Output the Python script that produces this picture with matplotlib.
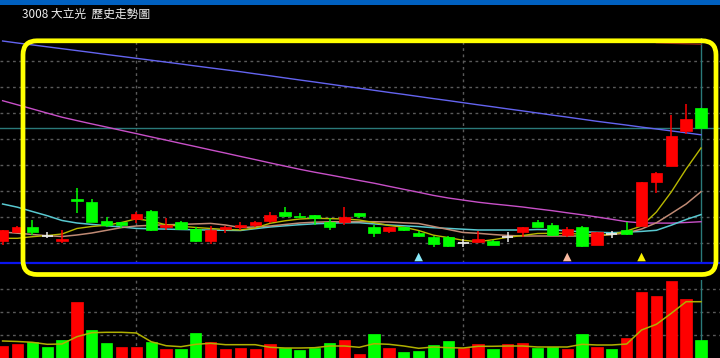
import matplotlib
matplotlib.use("Agg")
from matplotlib import pyplot as plt
from matplotlib.patches import FancyBboxPatch, Rectangle

plt.rcParams['font.family'] = ['Noto Sans CJK TC', 'DejaVu Sans']

title = "3008 大立光  歷史走勢圖"

# daily candles (price units, 1 unit ~ 1 px on the original)
opens = [24, 33, 38.3, 29.3, 24.3, 66.3, 63.3, 44, 43.3, 45.7, 54.3, 38.3, 43, 35.7, 23.7, 36,
         37.7, 40, 44, 52.7, 49.3, 50.3, 43.3, 42.7, 52, 38.3, 33.7, 37.7, 32.3, 28.3, 28.3, 22.3,
         23.3, 24.3, 28.3, 32.7, 43.3, 40, 30, 38.3, 20.3, 30.7, 34.7, 39, 83.3, 99.3, 134.3, 156.7]
highs = [35, 39, 45, 33.3, 35, 76.7, 65.7, 47.7, 43.3, 53.3, 55, 47.3, 44.3, 37.7, 39, 39,
         43.3, 43.7, 53.3, 57.7, 52.3, 50.3, 46.7, 57.7, 52, 40, 37.7, 38.3, 34, 29, 29, 25.7,
         34, 25, 33, 38.3, 45, 42.3, 38.3, 39, 33.3, 34, 43.3, 83, 93, 150, 161, 156.7]
lows = [20, 32, 30, 26.7, 22.3, 51.7, 42.7, 38.3, 37, 41.7, 34, 35, 35.7, 23, 21, 32.3,
        35, 38.3, 41.7, 47.7, 46.7, 40, 35, 40, 46.7, 28.3, 31.7, 34, 28.3, 18.3, 18, 18.3,
        23.3, 19.7, 23.3, 28.3, 37.7, 29.3, 28.3, 17.7, 20.3, 26.7, 30, 39, 72.3, 99.3, 131, 136.7]
closes = [35, 38.3, 33, 29.3, 26, 63.7, 42.7, 40, 40.2, 50.7, 34.7, 40, 36.3, 23.7, 34.7, 37.7,
          40, 42.7, 50.3, 49.3, 48, 47.3, 38, 48, 48.7, 31.7, 37.7, 34.7, 29, 20.7, 19, 22.3,
          25.7, 20.3, 28.3, 38.3, 38.0, 30, 35.7, 19, 33.3, 30.7, 31, 83, 92.3, 129.3, 145.7, 137.5]

# moving averages
ma5 = [26.7, 26.7, 28.3, 29.5, 31.0, 36.5, 38.5, 39.8, 42.5, 46.2, 44.0, 40.2, 38.8, 37.5, 36.5, 35.5,
       35.0, 37.0, 41.7, 44.2, 46.0, 46.7, 46.4, 46.0, 45.0, 42.4, 39.5, 37.8, 34.5, 29.8, 27.4, 24.7,
       23.3, 25.3, 27.7, 29.5, 31.5, 31.7, 31.7, 30.7, 30.0, 30.5, 34.0, 39.0, 53.0, 73.0, 96.0, 117.0]
ma10 = [33.0, 31.8, 30.5, 29.3, 28.5, 30.0, 32.0, 34.7, 37.4, 39.0, 39.7, 40.2, 40.6, 41.1, 41.6, 40.0,
        37.5, 38.0, 39.0, 40.5, 42.0, 42.8, 43.2, 43.3, 43.3, 43.3, 43.0, 42.2, 41.5, 38.5, 35.5, 32.5,
        31.7, 30.5, 29.5, 29.0, 29.0, 29.0, 29.0, 29.0, 29.0, 30.5, 32.0, 36.0, 42.2, 51.5, 61.0, 73.3]
ma20 = [61.0, 57.8, 53.5, 49.3, 44.5, 42.0, 40.6, 39.3, 38.0, 36.6, 36.2, 35.9, 35.5, 35.2, 34.9, 34.7,
        34.5, 36.3, 38.0, 39.2, 40.3, 41.2, 41.8, 42.3, 42.3, 41.1, 40.0, 39.2, 38.4, 37.3, 36.6, 35.8,
        35.0, 35.0, 35.0, 35.0, 35.5, 35.2, 34.2, 33.2, 32.7, 32.3, 32.9, 33.6, 34.7, 39.8, 45.5, 50.4]
ma60 = [164.3, 160.2, 156.1, 151.9, 147.8, 144.4, 141.1, 137.9, 134.6, 131.4, 128.1, 124.9, 121.6, 118.4,
        115.1, 111.9, 108.6, 105.4, 102.1, 98.9, 95.7, 92.8, 90.1, 87.3, 84.5, 81.8, 78.7, 75.7, 72.7, 69.6,
        67.0, 64.9, 62.8, 61.1, 59.6, 58.0, 56.1, 54.3, 52.2, 50.2, 48.0, 45.7, 43.3, 42.1, 41.9, 41.9, 42.5, 43.3]
ma120 = [224.0, 222.0, 220.1, 218.2, 216.3, 214.4, 212.5, 210.5, 208.6, 206.7, 204.8, 202.9, 201.0, 199.0,
         197.1, 195.2, 193.3, 191.2, 189.2, 187.1, 185.0, 183.0, 180.9, 178.8, 176.8, 174.7, 172.6, 170.6,
         168.5, 166.4, 164.4, 162.3, 160.2, 158.2, 156.1, 154.1, 152.0, 149.9, 147.9, 145.8, 143.7, 141.8,
         139.9, 137.9, 136.0, 134.1, 132.2, 130.2]
ma240_tail = [222.3, 221.7, 221.2, 220.7]  # only the last four days are in view

# volume (lots) and its 5-day average
volumes = [535, 609, 683, 492, 783, 2436, 1218, 639, 465, 492, 696, 405, 392, 1088, 683, 378,
           448, 378, 609, 448, 335, 435, 653, 783, 174, 1031, 435, 248, 305, 566, 740, 435,
           609, 378, 609, 639, 448, 465, 405, 1044, 492, 405, 870, 2871, 2710, 3363, 2567, 796]
vol_ma5 = [740, 718, 683, 596, 609, 927, 1101, 1118, 1118, 1088, 709, 535, 492, 596, 639, 579,
           579, 579, 465, 435, 435, 448, 522, 522, 465, 622, 596, 522, 422, 479, 448, 435,
           509, 509, 522, 522, 479, 479, 479, 596, 566, 566, 609, 1218, 1466, 1944, 2449, 2449]

# buy/sell signal arrows under the candles
signal_idx = [28, 38, 43]
signal_colors = ['#88e8f8', '#f8b8a0', '#f8f000']

month_starts = [9, 31]
price_grid = [22.3, 48.3, 74.3, 100.3, 126.3, 152.3, 178.3, 204.3]
volume_grid = [1000, 2000, 3000]

RED = '#ff0000'
GREEN = '#00ff00'
BG = '#000000'
GRID = '#5a5a5a'
CURSOR = '#2a7a7a'


def draw_candles(ax):
    for i, (o, h, l, c) in enumerate(zip(opens, highs, lows, closes)):
        if c > o:
            col = RED
        elif c < o:
            col = GREEN
        else:
            col = '#e8e8e8'
        ax.vlines(i, l, h, color=col, lw=1.1, zorder=4)
        if c == o:
            ax.hlines(c, i - 0.38, i + 0.38, color=col, lw=1.3, zorder=4)
        else:
            ax.bar(i, max(abs(c - o), 1.0), bottom=min(o, c), width=0.76,
                   color=col, edgecolor=col, lw=0.5, zorder=5)


def volume_colors():
    # volume is coloured by close against the previous close
    cols = []
    for i in range(len(closes)):
        prev = closes[i - 1] if i > 0 else opens[i]
        cols.append(RED if closes[i] > prev else GREEN)
    return cols


fig = plt.figure(figsize=(7.2, 3.58), dpi=100, facecolor=BG)

# price pane
ax = fig.add_axes([0, (358 - 262.5) / 358, 1, (262.5 - 38) / 358], facecolor=BG)
n = len(closes)
xs = list(range(n))
ax.set_xlim(-0.175, 48.28)
ax.set_ylim(2.5, 227)
for g in price_grid:
    ax.axhline(g, color=GRID, lw=1.0, ls=(0, (2, 2.5)), zorder=1)
for m in month_starts:
    ax.axvline(m, color=GRID, lw=1.0, ls=(0, (2, 2.5)), zorder=1)

ax.plot(xs, ma120, color='#6464f0', lw=1.0, zorder=3)
ax.plot(xs, ma60, color='#c850c8', lw=1.0, zorder=3)
ax.plot(xs, ma20, color='#58c8d0', lw=1.1, zorder=3)
ax.plot(xs, ma10, color='#c08a74', lw=1.1, zorder=3)
ax.plot(xs, ma5, color='#b8b800', lw=1.0, zorder=3)
ax.plot(xs[-len(ma240_tail):], ma240_tail, color='#8a1818', lw=1.0, zorder=3)

draw_candles(ax)

ax.scatter(signal_idx, [8] * len(signal_idx), marker='^', s=38,
           c=signal_colors, linewidths=0, zorder=6)

# crosshair on the last bar
ax.axvline(n - 1, color=CURSOR, lw=1.0, zorder=2)
ax.axhline(closes[-1], color=CURSOR, lw=1.0, zorder=2)

for side in ['top', 'left', 'right']:
    ax.spines[side].set_visible(False)
ax.spines['bottom'].set_color('#0a14f0')
ax.spines['bottom'].set_linewidth(1.6)
ax.set_xticks([])
ax.set_yticks([])

# volume pane
axv = fig.add_axes([0, 0, 1, 78 / 358], facecolor=BG)
axv.set_xlim(-0.175, 48.28)
axv.set_ylim(0, 3393)
for g in volume_grid:
    axv.axhline(g, color=GRID, lw=1.0, ls=(0, (2, 2.5)), zorder=1)
for m in month_starts:
    axv.axvline(m, color=GRID, lw=1.0, ls=(0, (2, 2.5)), zorder=1)
vcols = volume_colors()
axv.bar(xs, volumes, width=0.76, color=vcols, edgecolor=vcols, lw=0.5, zorder=3)
axv.plot(xs, vol_ma5, color='#b0b000', lw=1.1, zorder=4)
axv.axvline(n - 1, color=CURSOR, lw=1.0, zorder=2)
for s in axv.spines.values():
    s.set_visible(False)
axv.set_xticks([])
axv.set_yticks([])

# overlay in pixel units: title bar and the yellow highlight box
ov = fig.add_axes([0, 0, 1, 1], zorder=10)
ov.set_xlim(0, 720)
ov.set_ylim(358, 0)
ov.axis('off')
ov.patch.set_alpha(0)
ov.add_patch(Rectangle((0, 0), 720, 4.5, color='#0060c0', lw=0))
ov.text(22, 14.5, title, color='#f0f0f0', fontsize=8.5, ha='left', va='center')
ov.add_patch(FancyBboxPatch((23, 40.8), 693, 233.7,
                            boxstyle="round,pad=0,rounding_size=14",
                            fc='none', ec='#ffff00', lw=3.4))

fig.savefig('out.png', dpi=100, facecolor=BG)
plt.close(fig)
